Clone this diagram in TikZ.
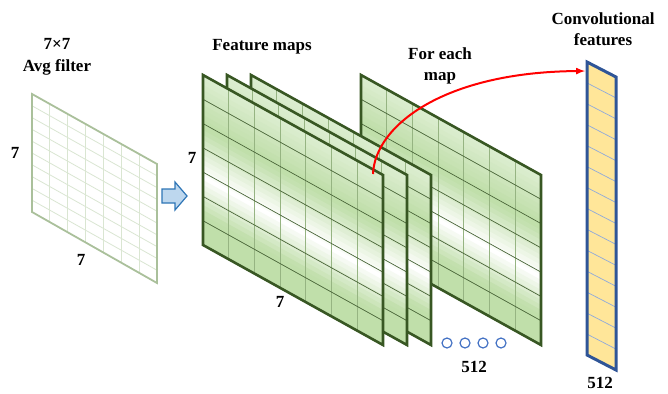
\documentclass[tikz,border=0pt]{standalone}
\usepackage{fontspec}
\setmainfont{Liberation Serif}
\usetikzlibrary{positioning}

\definecolor{mapgreen}{RGB}{140,196,100}
\definecolor{mapdark}{RGB}{56,87,35}
\definecolor{maphl}{RGB}{72,100,55}
\definecolor{mapvl}{RGB}{150,180,130}
\definecolor{filterline}{RGB}{170,192,155}
\definecolor{filtergridc}{RGB}{218,230,210}
\definecolor{arrowfill}{RGB}{189,215,238}
\definecolor{arrowline}{RGB}{46,117,182}
\definecolor{dotblue}{RGB}{68,114,196}
\definecolor{convyellow}{RGB}{255,230,153}
\definecolor{convblue}{RGB}{47,85,151}
\definecolor{convgrid}{RGB}{143,170,220}

\begin{document}
\begin{tikzpicture}[x=1pt, y=-1pt,
    title/.style={font=\fontsize{17}{21.5}\selectfont\bfseries, align=center},
    dimlabel/.style={font=\fontsize{17}{18}\selectfont\bfseries},
    filtergrid/.style={filtergridc, line width=0.8pt},
    filterborder/.style={filterline, line width=1.8pt, line join=miter},
    mapborder/.style={mapdark, line width=2.6pt, line join=miter},
    maphline/.style={maphl, line width=0.7pt},
    mapvline/.style={mapvl, line width=0.9pt},
    blockarrow/.style={draw=arrowline, fill=arrowfill, line width=1.2pt, line join=miter},
    dot/.style={circle, draw=dotblue, fill=white, line width=1.2pt, minimum size=10pt, inner sep=0pt},
    convfill/.style={fill=convyellow},
    convline/.style={convgrid, line width=0.7pt},
    convborder/.style={convblue, line width=3pt, line join=miter},
    featarrow/.style={-latex, red, line width=2pt},
    pics/featmap/.style={code={
        % shaded strips, green - white - green
        \foreach \k in {0,...,33} {
            \pgfmathsetmacro\va{\k/34}
            \pgfmathsetmacro\vb{min((\k+1.5)/34,1)}
            \pgfmathsetmacro\vm{(\k+0.5)/34}
            \pgfmathtruncatemacro\tint{\vm<0.6 ? min(55, 30+90*\vm, 55*(0.6-\vm)/0.28) : min(55, 55*(\vm-0.6)/0.22)}
            \fill[mapgreen!\tint!white] (0,\va*170) -- (180,100+\va*170)
                -- (180,100+\vb*170) -- (0,\vb*170) -- cycle;
        }
        \foreach \k in {1,...,6}
            \draw[mapvline] ({\k*180/7},{\k*100/7}) -- ++(0,170);
        \foreach \k in {1,...,6}
            \draw[maphline] (0,{\k*170/7}) -- ++(180,100);
        \draw[mapborder] (0,0) -- (180,100) -- (180,270) -- (0,170) -- cycle;
    }}
]
    \useasboundingbox (0,0) rectangle (668,393);

    % --- AVG FILTER ---
    \fill[white] (32,94) -- (157,164) -- (157,283) -- (32,212) -- cycle;
    \foreach \k in {1,...,6}
        \draw[filtergrid] ({32+\k*125/7},{94+\k*70/7}) -- ++(0,118);
    \foreach \k in {1,...,9}
        \draw[filtergrid] (32,{94+\k*118/10}) -- ++(125,70);
    \draw[filterborder] (32,94) -- (157,164) -- (157,283) -- (32,212) -- cycle;

    \node[title] (filtertitle) at (57,57) {7×7\\Avg filter};
    \node[dimlabel] (filterh) at (15,153) {7};
    \node[dimlabel] (filterw) at (81,260) {7};

    % block arrow
    \draw[blockarrow] (162,189) -- (175,189) -- (175,182) -- (187,196)
        -- (175,210) -- (175,203) -- (162,203) -- cycle;

    % --- FEATURE MAPS (back to front) ---
    \pic at (361,75) {featmap};
    \pic at (251,75) {featmap};
    \pic at (227,75) {featmap};
    \pic at (203,75) {featmap};

    \node[title] (maptitle) at (262,47) {Feature maps};
    \node[title] (eachtitle) at (440,66) {For each\\map};
    \node[dimlabel] (maph) at (192,158) {7};
    \node[dimlabel] (mapw) at (280,302) {7};

    \foreach \i in {1,...,4}
        \node[dot] (dot-\i) at ({429+18*\i},343) {};
    \node[dimlabel] (mapcount) at (474,367) {512};

    % --- CONVOLUTIONAL FEATURES ---
    \fill[convfill] (587,62) -- (616,77) -- (616,370) -- (587,355) -- cycle;
    \foreach \k in {1,...,13}
        \draw[convline] (587,{62+\k*293/14}) -- ++(29,15);
    \draw[convborder] (587,62) -- (616,77) -- (616,370) -- (587,355) -- cycle;

    \node[title] (convtitle) at (603,29) {Convolutional\\features};
    \node[dimlabel] (convcount) at (600,383) {512};

    % --- RED ARROW ---
    \coordinate (mapspot) at (373,174);
    \coordinate (convin) at (585,71);
    \draw[featarrow] (mapspot) .. controls (375,125) and (445,72) .. (convin);

\end{tikzpicture}
\end{document}
